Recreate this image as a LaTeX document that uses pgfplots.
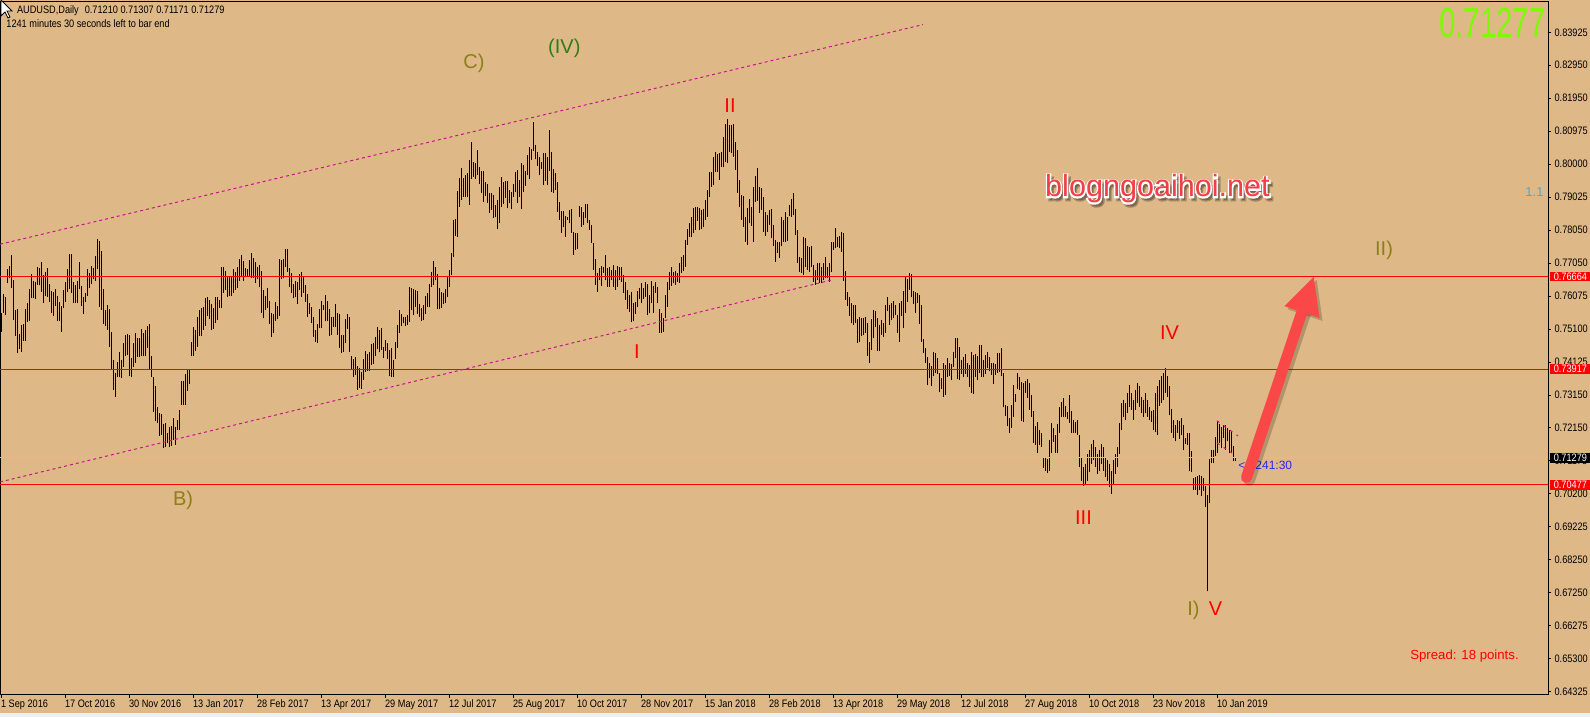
\documentclass[border=0pt]{standalone}
\usepackage{fontspec}
\setmainfont{Liberation Sans}
\newfontfamily\mtfont[FakeStretch=0.85]{Liberation Sans}
\newfontfamily\blogfat[FakeBold=9]{Liberation Sans}
\usepackage{graphicx}
\usepackage{pgfplots}
\usepackage{pgfplotstable}
\pgfplotsset{compat=1.18}
\usetikzlibrary{arrows.meta}

\definecolor{bg}{RGB}{222,184,135}
\definecolor{chan}{RGB}{200,20,140}
\definecolor{olv}{RGB}{140,128,24}
\definecolor{grn}{RGB}{45,125,25}
\definecolor{lime}{RGB}{124,252,0}
\definecolor{arr}{RGB}{250,72,72}
\definecolor{blogred}{RGB}{242,62,72}
\definecolor{sky}{RGB}{70,170,230}
\definecolor{tblue}{RGB}{40,40,235}
\definecolor{silv}{RGB}{192,192,192}
\definecolor{strip}{RGB}{240,240,240}

\newcommand\smallmt{\mtfont\fontsize{5.4}{6.5}\selectfont}
\newcommand\lblfont{\fontsize{10}{12}\selectfont}

% daily bars of AUDUSD: x position (px), low, high
\pgfplotstableread{
x lo hi
1.3 0.7503 0.7558
3.3 0.7559 0.7615
5.3 0.7551 0.7607
7.3 0.7646 0.7688
9.3 0.7661 0.7698
11.3 0.7634 0.7731
13.3 0.7537 0.7656
15.3 0.7491 0.7567
17.3 0.7440 0.7569
19.3 0.7450 0.7495
21.3 0.7443 0.7523
23.3 0.7476 0.7525
25.3 0.7476 0.7569
27.3 0.7531 0.7587
29.3 0.7533 0.7630
31.3 0.7604 0.7674
33.3 0.7602 0.7652
35.3 0.7599 0.7650
37.3 0.7642 0.7696
39.3 0.7640 0.7692
41.3 0.7622 0.7710
43.3 0.7589 0.7671
45.3 0.7609 0.7681
47.3 0.7607 0.7691
49.3 0.7592 0.7644
51.3 0.7559 0.7625
53.3 0.7549 0.7622
55.3 0.7579 0.7630
57.3 0.7533 0.7609
59.3 0.7533 0.7592
61.3 0.7503 0.7579
63.3 0.7572 0.7627
65.3 0.7592 0.7651
67.3 0.7622 0.7688
69.3 0.7629 0.7733
71.3 0.7619 0.7733
73.3 0.7589 0.7651
75.3 0.7587 0.7641
77.3 0.7589 0.7653
79.3 0.7629 0.7710
81.3 0.7579 0.7639
83.3 0.7555 0.7605
85.3 0.7592 0.7619
87.3 0.7609 0.7688
89.3 0.7632 0.7676
91.3 0.7644 0.7698
93.3 0.7658 0.7693
95.3 0.7653 0.7728
97.3 0.7688 0.7778
99.3 0.7577 0.7772
101.3 0.7567 0.7743
103.3 0.7525 0.7630
105.3 0.7520 0.7567
107.3 0.7508 0.7582
109.3 0.7458 0.7569
111.3 0.7391 0.7501
113.3 0.7329 0.7419
115.3 0.7310 0.7381
117.3 0.7369 0.7414
119.3 0.7367 0.7443
121.3 0.7364 0.7419
123.3 0.7399 0.7470
125.3 0.7430 0.7493
127.3 0.7433 0.7495
129.3 0.7371 0.7493
131.3 0.7367 0.7424
133.3 0.7399 0.7470
135.3 0.7409 0.7500
137.3 0.7427 0.7485
139.3 0.7427 0.7485
141.3 0.7429 0.7510
143.3 0.7429 0.7498
145.3 0.7429 0.7507
147.3 0.7453 0.7521
149.3 0.7391 0.7525
151.3 0.7369 0.7431
153.3 0.7265 0.7369
155.3 0.7237 0.7341
157.3 0.7230 0.7280
159.3 0.7193 0.7260
161.3 0.7196 0.7257
163.3 0.7158 0.7228
165.3 0.7161 0.7230
167.3 0.7171 0.7201
169.3 0.7161 0.7220
171.3 0.7163 0.7222
173.3 0.7181 0.7245
175.3 0.7166 0.7220
177.3 0.7210 0.7240
179.3 0.7210 0.7270
181.3 0.7285 0.7356
183.3 0.7285 0.7356
185.3 0.7285 0.7377
187.3 0.7327 0.7389
189.3 0.7347 0.7391
191.3 0.7429 0.7472
193.3 0.7429 0.7516
195.3 0.7446 0.7508
197.3 0.7458 0.7546
199.3 0.7490 0.7567
201.3 0.7491 0.7572
203.3 0.7508 0.7575
205.3 0.7520 0.7604
207.3 0.7548 0.7607
209.3 0.7540 0.7597
211.3 0.7508 0.7585
213.3 0.7510 0.7572
215.3 0.7528 0.7605
217.3 0.7537 0.7607
219.3 0.7573 0.7598
221.3 0.7574 0.7696
223.3 0.7619 0.7696
225.3 0.7627 0.7683
227.3 0.7605 0.7669
229.3 0.7609 0.7666
231.3 0.7610 0.7668
233.3 0.7617 0.7688
235.3 0.7627 0.7681
237.3 0.7634 0.7696
239.3 0.7654 0.7719
241.3 0.7668 0.7731
243.3 0.7653 0.7714
245.3 0.7668 0.7691
247.3 0.7666 0.7689
249.3 0.7666 0.7716
251.3 0.7663 0.7738
253.3 0.7663 0.7721
255.3 0.7646 0.7711
257.3 0.7658 0.7696
259.3 0.7635 0.7701
261.3 0.7557 0.7684
263.3 0.7542 0.7627
265.3 0.7567 0.7609
267.3 0.7572 0.7632
269.3 0.7525 0.7595
271.3 0.7488 0.7557
273.3 0.7498 0.7555
275.3 0.7533 0.7592
277.3 0.7540 0.7579
279.3 0.7549 0.7719
281.3 0.7658 0.7716
283.3 0.7661 0.7719
285.3 0.7696 0.7749
287.3 0.7681 0.7749
289.3 0.7637 0.7691
291.3 0.7619 0.7676
293.3 0.7602 0.7644
295.3 0.7605 0.7654
297.3 0.7585 0.7651
299.3 0.7627 0.7674
301.3 0.7607 0.7679
303.3 0.7619 0.7668
305.3 0.7592 0.7641
307.3 0.7545 0.7615
309.3 0.7555 0.7589
311.3 0.7528 0.7575
313.3 0.7488 0.7547
315.3 0.7473 0.7508
317.3 0.7470 0.7526
319.3 0.7513 0.7569
321.3 0.7513 0.7594
323.3 0.7567 0.7582
325.3 0.7533 0.7612
327.3 0.7533 0.7595
329.3 0.7490 0.7569
331.3 0.7493 0.7547
333.3 0.7516 0.7547
335.3 0.7516 0.7585
337.3 0.7493 0.7557
339.3 0.7453 0.7555
341.3 0.7438 0.7493
343.3 0.7443 0.7493
345.3 0.7468 0.7541
347.3 0.7510 0.7555
349.3 0.7443 0.7547
351.3 0.7389 0.7431
353.3 0.7367 0.7421
355.3 0.7374 0.7427
357.3 0.7329 0.7401
359.3 0.7336 0.7394
361.3 0.7332 0.7384
363.3 0.7359 0.7421
365.3 0.7384 0.7446
367.3 0.7387 0.7436
369.3 0.7386 0.7443
371.3 0.7404 0.7466
373.3 0.7407 0.7468
375.3 0.7429 0.7486
377.3 0.7450 0.7516
379.3 0.7441 0.7508
381.3 0.7448 0.7515
383.3 0.7424 0.7458
385.3 0.7446 0.7478
387.3 0.7421 0.7468
389.3 0.7371 0.7448
391.3 0.7369 0.7453
393.3 0.7369 0.7419
395.3 0.7421 0.7473
397.3 0.7453 0.7523
399.3 0.7498 0.7567
401.3 0.7520 0.7555
403.3 0.7528 0.7547
405.3 0.7520 0.7547
407.3 0.7523 0.7552
409.3 0.7531 0.7637
411.3 0.7567 0.7632
413.3 0.7552 0.7629
415.3 0.7577 0.7627
417.3 0.7555 0.7624
419.3 0.7547 0.7585
421.3 0.7533 0.7572
423.3 0.7537 0.7582
425.3 0.7555 0.7610
427.3 0.7575 0.7619
429.3 0.7575 0.7645
431.3 0.7635 0.7681
433.3 0.7642 0.7713
435.3 0.7656 0.7696
437.3 0.7569 0.7674
439.3 0.7569 0.7632
441.3 0.7572 0.7622
443.3 0.7585 0.7619
445.3 0.7587 0.7630
447.3 0.7607 0.7666
449.3 0.7635 0.7686
451.3 0.7671 0.7738
453.3 0.7724 0.7835
455.3 0.7787 0.7837
457.3 0.7785 0.7921
459.3 0.7874 0.7958
461.3 0.7894 0.7988
463.3 0.7904 0.7960
465.3 0.7902 0.7968
467.3 0.7902 0.7973
469.3 0.7879 0.8013
471.3 0.7956 0.8066
473.3 0.7963 0.8008
475.3 0.7956 0.8003
477.3 0.7968 0.8043
479.3 0.7942 0.7993
481.3 0.7914 0.7980
483.3 0.7889 0.7980
485.3 0.7906 0.7947
487.3 0.7886 0.7942
489.3 0.7854 0.7914
491.3 0.7864 0.7914
493.3 0.7840 0.7909
495.3 0.7843 0.7879
497.3 0.7807 0.7894
499.3 0.7825 0.7932
501.3 0.7874 0.7963
503.3 0.7882 0.7947
505.3 0.7901 0.7952
507.3 0.7869 0.7951
509.3 0.7884 0.7924
511.3 0.7866 0.7919
513.3 0.7904 0.7942
515.3 0.7919 0.7978
517.3 0.7886 0.7983
519.3 0.7902 0.7954
521.3 0.7866 0.8003
523.3 0.7919 0.7998
525.3 0.7936 0.7981
527.3 0.7968 0.8028
529.3 0.7956 0.8051
531.3 0.8013 0.8045
533.3 0.8041 0.8125
535.3 0.8015 0.8058
537.3 0.7995 0.8038
539.3 0.7968 0.8023
541.3 0.7985 0.8008
543.3 0.7939 0.8035
545.3 0.7952 0.8033
547.3 0.7939 0.8023
549.3 0.7981 0.8102
551.3 0.7919 0.8038
553.3 0.7914 0.7985
555.3 0.7924 0.7975
557.3 0.7859 0.7949
559.3 0.7835 0.7889
561.3 0.7797 0.7862
563.3 0.7813 0.7862
565.3 0.7785 0.7846
567.3 0.7835 0.7844
569.3 0.7825 0.7864
571.3 0.7797 0.7866
573.3 0.7731 0.7800
575.3 0.7746 0.7795
577.3 0.7748 0.7795
579.3 0.7843 0.7876
581.3 0.7815 0.7874
583.3 0.7820 0.7859
585.3 0.7840 0.7882
587.3 0.7825 0.7882
589.3 0.7805 0.7835
591.3 0.7767 0.7820
593.3 0.7686 0.7767
595.3 0.7642 0.7718
597.3 0.7622 0.7678
599.3 0.7656 0.7691
601.3 0.7639 0.7698
603.3 0.7676 0.7696
605.3 0.7656 0.7731
607.3 0.7637 0.7691
609.3 0.7637 0.7696
611.3 0.7656 0.7686
613.3 0.7637 0.7701
615.3 0.7627 0.7686
617.3 0.7637 0.7698
619.3 0.7656 0.7694
621.3 0.7649 0.7696
623.3 0.7617 0.7671
625.3 0.7597 0.7651
627.3 0.7569 0.7627
629.3 0.7562 0.7612
631.3 0.7531 0.7622
633.3 0.7533 0.7589
635.3 0.7555 0.7592
637.3 0.7577 0.7625
639.3 0.7599 0.7632
641.3 0.7587 0.7646
643.3 0.7600 0.7634
645.3 0.7607 0.7651
647.3 0.7552 0.7644
649.3 0.7557 0.7612
651.3 0.7587 0.7654
653.3 0.7559 0.7639
655.3 0.7619 0.7651
657.3 0.7587 0.7637
659.3 0.7500 0.7569
661.3 0.7500 0.7557
663.3 0.7503 0.7542
665.3 0.7542 0.7612
667.3 0.7577 0.7651
669.3 0.7627 0.7681
671.3 0.7639 0.7696
673.3 0.7646 0.7681
675.3 0.7642 0.7684
677.3 0.7651 0.7678
679.3 0.7648 0.7708
681.3 0.7676 0.7726
683.3 0.7684 0.7731
685.3 0.7696 0.7775
687.3 0.7760 0.7807
689.3 0.7785 0.7825
691.3 0.7785 0.7843
693.3 0.7797 0.7869
695.3 0.7805 0.7872
697.3 0.7833 0.7872
699.3 0.7805 0.7869
701.3 0.7807 0.7864
703.3 0.7813 0.7866
705.3 0.7835 0.7894
707.3 0.7845 0.7924
709.3 0.7902 0.7976
711.3 0.7934 0.7978
713.3 0.7939 0.8021
715.3 0.7978 0.8038
717.3 0.7978 0.8031
719.3 0.7954 0.8033
721.3 0.7993 0.8038
723.3 0.7991 0.8082
725.3 0.8008 0.8120
727.3 0.8003 0.8134
729.3 0.8038 0.8117
731.3 0.8033 0.8117
733.3 0.8023 0.8120
735.3 0.7983 0.8066
737.3 0.7916 0.8043
739.3 0.7874 0.7954
741.3 0.7835 0.7909
743.3 0.7815 0.7906
745.3 0.7770 0.7843
747.3 0.7760 0.7871
749.3 0.7825 0.7896
751.3 0.7817 0.7874
753.3 0.7770 0.7932
755.3 0.7889 0.7965
757.3 0.7892 0.7988
759.3 0.7854 0.7934
761.3 0.7864 0.7929
763.3 0.7800 0.7902
765.3 0.7787 0.7859
767.3 0.7800 0.7849
769.3 0.7820 0.7864
771.3 0.7780 0.7866
773.3 0.7757 0.7820
775.3 0.7711 0.7775
777.3 0.7736 0.7770
779.3 0.7721 0.7770
781.3 0.7757 0.7843
783.3 0.7770 0.7835
785.3 0.7770 0.7857
787.3 0.7773 0.7844
789.3 0.7847 0.7879
791.3 0.7845 0.7896
793.3 0.7850 0.7914
795.3 0.7790 0.7866
797.3 0.7708 0.7805
799.3 0.7681 0.7726
801.3 0.7676 0.7721
803.3 0.7671 0.7785
805.3 0.7696 0.7780
807.3 0.7686 0.7757
809.3 0.7681 0.7753
811.3 0.7696 0.7757
813.3 0.7651 0.7701
815.3 0.7642 0.7686
817.3 0.7656 0.7706
819.3 0.7648 0.7708
821.3 0.7646 0.7696
823.3 0.7656 0.7708
825.3 0.7661 0.7726
827.3 0.7661 0.7696
829.3 0.7651 0.7708
831.3 0.7681 0.7770
833.3 0.7746 0.7770
835.3 0.7750 0.7810
837.3 0.7755 0.7783
839.3 0.7750 0.7787
841.3 0.7741 0.7800
843.3 0.7654 0.7797
845.3 0.7597 0.7683
847.3 0.7579 0.7620
849.3 0.7549 0.7605
851.3 0.7530 0.7587
853.3 0.7523 0.7582
855.3 0.7528 0.7582
857.3 0.7470 0.7539
859.3 0.7473 0.7547
861.3 0.7490 0.7542
863.3 0.7493 0.7542
865.3 0.7500 0.7547
867.3 0.7431 0.7530
869.3 0.7411 0.7473
871.3 0.7448 0.7539
873.3 0.7483 0.7567
875.3 0.7518 0.7564
877.3 0.7446 0.7542
879.3 0.7446 0.7523
881.3 0.7493 0.7537
883.3 0.7486 0.7528
885.3 0.7500 0.7582
887.3 0.7564 0.7605
889.3 0.7523 0.7582
891.3 0.7537 0.7587
893.3 0.7542 0.7594
895.3 0.7552 0.7582
897.3 0.7498 0.7552
899.3 0.7473 0.7589
901.3 0.7549 0.7595
903.3 0.7513 0.7625
905.3 0.7559 0.7668
907.3 0.7592 0.7658
909.3 0.7627 0.7676
911.3 0.7605 0.7674
913.3 0.7585 0.7625
915.3 0.7559 0.7622
917.3 0.7589 0.7617
919.3 0.7526 0.7612
921.3 0.7473 0.7582
923.3 0.7438 0.7480
925.3 0.7409 0.7453
927.3 0.7344 0.7428
929.3 0.7364 0.7409
931.3 0.7341 0.7401
933.3 0.7371 0.7443
935.3 0.7379 0.7440
937.3 0.7377 0.7424
939.3 0.7322 0.7381
941.3 0.7331 0.7364
943.3 0.7308 0.7409
945.3 0.7315 0.7404
947.3 0.7369 0.7424
949.3 0.7371 0.7409
951.3 0.7359 0.7407
953.3 0.7399 0.7443
955.3 0.7424 0.7483
957.3 0.7361 0.7483
959.3 0.7359 0.7456
961.3 0.7377 0.7419
963.3 0.7367 0.7427
965.3 0.7377 0.7436
967.3 0.7369 0.7409
969.3 0.7339 0.7404
971.3 0.7320 0.7443
973.3 0.7317 0.7433
975.3 0.7369 0.7436
977.3 0.7359 0.7431
979.3 0.7381 0.7463
981.3 0.7369 0.7463
983.3 0.7367 0.7419
985.3 0.7377 0.7433
987.3 0.7394 0.7443
989.3 0.7387 0.7427
991.3 0.7374 0.7411
993.3 0.7346 0.7409
995.3 0.7374 0.7407
997.3 0.7381 0.7438
999.3 0.7384 0.7440
1001.3 0.7371 0.7455
1003.3 0.7278 0.7381
1005.3 0.7253 0.7285
1007.3 0.7221 0.7282
1009.3 0.7201 0.7247
1011.3 0.7216 0.7285
1013.3 0.7250 0.7344
1015.3 0.7295 0.7318
1017.3 0.7331 0.7379
1019.3 0.7329 0.7369
1021.3 0.7238 0.7354
1023.3 0.7235 0.7349
1025.3 0.7320 0.7357
1027.3 0.7305 0.7361
1029.3 0.7270 0.7349
1031.3 0.7250 0.7315
1033.3 0.7173 0.7268
1035.3 0.7166 0.7222
1037.3 0.7141 0.7235
1039.3 0.7166 0.7212
1041.3 0.7161 0.7203
1043.3 0.7097 0.7131
1045.3 0.7090 0.7129
1047.3 0.7084 0.7123
1049.3 0.7090 0.7181
1051.3 0.7141 0.7230
1053.3 0.7176 0.7215
1055.3 0.7141 0.7196
1057.3 0.7141 0.7228
1059.3 0.7203 0.7278
1061.3 0.7248 0.7295
1063.3 0.7250 0.7305
1065.3 0.7250 0.7282
1067.3 0.7242 0.7265
1069.3 0.7232 0.7315
1071.3 0.7203 0.7268
1073.3 0.7203 0.7240
1075.3 0.7201 0.7235
1077.3 0.7196 0.7240
1079.3 0.7100 0.7196
1081.3 0.7060 0.7130
1083.3 0.7045 0.7100
1085.3 0.7050 0.7110
1087.3 0.7060 0.7140
1089.3 0.7085 0.7150
1091.3 0.7110 0.7170
1093.3 0.7120 0.7180
1095.3 0.7100 0.7160
1097.3 0.7080 0.7140
1099.3 0.7090 0.7150
1101.3 0.7110 0.7170
1103.3 0.7090 0.7160
1105.3 0.7070 0.7130
1107.3 0.7060 0.7120
1109.3 0.7040 0.7110
1111.3 0.7020 0.7090
1113.3 0.7050 0.7120
1115.3 0.7080 0.7140
1117.3 0.7100 0.7160
1119.3 0.7140 0.7230
1121.3 0.7210 0.7290
1123.3 0.7250 0.7300
1125.3 0.7240 0.7290
1127.3 0.7260 0.7320
1129.3 0.7280 0.7345
1131.3 0.7270 0.7320
1133.3 0.7240 0.7300
1135.3 0.7270 0.7330
1137.3 0.7290 0.7350
1139.3 0.7280 0.7340
1141.3 0.7260 0.7310
1143.3 0.7250 0.7300
1145.3 0.7260 0.7320
1147.3 0.7250 0.7300
1149.3 0.7240 0.7280
1151.3 0.7233 0.7266
1153.3 0.7211 0.7269
1155.3 0.7206 0.7320
1157.3 0.7196 0.7340
1159.3 0.7283 0.7360
1161.3 0.7292 0.7370
1163.3 0.7300 0.7380
1165.3 0.7320 0.7395
1167.3 0.7310 0.7370
1169.3 0.7256 0.7340
1171.3 0.7203 0.7273
1173.3 0.7187 0.7241
1175.3 0.7177 0.7226
1177.3 0.7201 0.7241
1179.3 0.7184 0.7236
1181.3 0.7196 0.7246
1183.3 0.7150 0.7226
1185.3 0.7170 0.7187
1187.3 0.7167 0.7201
1189.3 0.7088 0.7201
1191.3 0.7085 0.7147
1193.3 0.7031 0.7068
1195.3 0.7033 0.7071
1197.3 0.7018 0.7073
1199.3 0.7031 0.7078
1201.3 0.7015 0.7075
1203.3 0.7028 0.7068
1205.3 0.6981 0.7043
1207.3 0.6731 0.7018
1209.3 0.6993 0.7124
1211.3 0.7112 0.7150
1213.3 0.7112 0.7152
1215.3 0.7132 0.7190
1217.3 0.7142 0.7236
1219.3 0.7172 0.7229
1221.3 0.7157 0.7219
1223.3 0.7187 0.7226
1225.3 0.7152 0.7226
1227.3 0.7177 0.7216
1229.3 0.7142 0.7211
1231.3 0.7142 0.7209
1233.3 0.7117 0.7162
1235.3 0.7117 0.7130
}\bars

\begin{document}
\begin{tikzpicture}
\fill[bg] (0,-11pt) rectangle (795pt,347.5pt);
\fill[strip] (0,-11pt) rectangle (795pt,-9pt);
\begin{axis}[
  at={(0,0)}, anchor=south west,
  scale only axis, width=774pt, height=346.5pt,
  xmin=0, xmax=1548, ymin=0.642296, ymax=0.848256,
  clip=false,
  axis line style={black, line width=0.5pt},
  tick style={black, line width=0.5pt},
  tick align=outside, major tick length=1.6pt,
  xtick pos=bottom, ytick pos=right, yticklabel pos=right,
  xtick={1.5,65.5,129.5,193.5,257.5,321.5,385.5,449.5,513.5,577.5,641.5,705.5,769.5,833.5,897.5,961.5,1025.5,1089.5,1153.5,1217.5},
  xticklabels={1 Sep 2016,17 Oct 2016,30 Nov 2016,13 Jan 2017,28 Feb 2017,13 Apr 2017,29 May 2017,12 Jul 2017,25 Aug 2017,10 Oct 2017,28 Nov 2017,15 Jan 2018,28 Feb 2018,13 Apr 2018,29 May 2018,12 Jul 2018,27 Aug 2018,10 Oct 2018,23 Nov 2018,10 Jan 2019},
  ytick={0.64325,0.65305,0.66285,0.67265,0.68245,0.69225,0.70205,0.71185,0.72165,0.73145,0.74125,0.75105,0.76085,0.77065,0.78045,0.79025,0.80005,0.80985,0.81965,0.82945,0.83925},
  yticklabels={0.64325,0.65300,0.66275,0.67250,0.68250,0.69225,0.70200,0.71175,0.72150,0.73150,0.74125,0.75100,0.76075,0.77050,0.78050,0.79025,0.80000,0.80975,0.81950,0.82950,0.83925},
  tick label style={font=\smallmt, inner sep=0pt, text=black},
  xticklabel style={anchor=north west, xshift=-0.4pt, yshift=-0.6pt},
  yticklabel style={anchor=west, xshift=1.5pt},
]
% price bars (high-low)
\addplot[draw=none, no marks, forget plot,
  error bars/.cd, y dir=plus, y explicit, error mark=none,
  error bar style={draw=black, line width=0.6pt, solid}]
  table[x=x, y=lo, y error plus expr=\thisrow{hi}-\thisrow{lo}] {\bars};

% levels
\addplot[red, line width=0.5pt] coordinates {(0,0.76664) (1548,0.76664)};
\addplot[red, line width=0.5pt] coordinates {(0,0.73917) (1548,0.73917)};
\addplot[red, line width=0.5pt] coordinates {(0,0.70477) (1548,0.70477)};
\addplot[silv, line width=0.5pt] coordinates {(0,0.71279) (1548,0.71279)};

% channel
\addplot[chan, line width=0.5pt, dash pattern=on 1.5pt off 1.5pt] coordinates {(0,0.77625) (923,0.84154)};
\addplot[chan, line width=0.5pt, dash pattern=on 1.5pt off 1.5pt] coordinates {(0,0.70560) (831.7,0.76564)};
\addplot[chan, line width=0.5pt, dash pattern=on 1.5pt off 2.5pt] coordinates {(1217,0.7238) (1238,0.7193)};
\addplot[chan, line width=0.5pt, dash pattern=on 1.5pt off 2.5pt] coordinates {(1217,0.7172) (1232,0.7142)};

% wave labels
\node[anchor=base, text=olv, font=\lblfont] at (axis cs:474,0.8286) {C)};
\node[anchor=base, text=grn, font=\lblfont] at (axis cs:564.3,0.8330) {(IV)};
\node[anchor=base, text=red, font=\lblfont] at (axis cs:730,0.8155) {II};
\node[anchor=base, text=red, font=\lblfont] at (axis cs:637,0.7424) {I};
\node[anchor=base, text=olv, font=\lblfont] at (axis cs:183,0.6986) {B)};
\node[anchor=base, text=red, font=\lblfont] at (axis cs:1083.5,0.6931) {III};
\node[anchor=base, text=red, font=\lblfont] at (axis cs:1169.6,0.7479) {IV};
\node[anchor=base, text=olv, font=\lblfont] at (axis cs:1193.5,0.6659) {I)};
\node[anchor=base, text=red, font=\lblfont] at (axis cs:1215.5,0.6659) {V};
\node[anchor=base, text=olv, font=\lblfont] at (axis cs:1384,0.7730) {II)};

% texts
\node[anchor=base west, inner sep=0pt, font=\smallmt] at (axis cs:16.7,0.84469) {AUDUSD,Daily\hspace{3pt}0.71210 0.71307 0.71171 0.71279};
\node[anchor=base west, inner sep=0pt, font=\smallmt] at (axis cs:6,0.84074) {1241 minutes 30 seconds left to bar end};
\node[anchor=base east, inner sep=0pt, text=lime, font=\fontsize{21}{24}\selectfont] at (axis cs:1546,0.8376) {\scalebox{0.7}[1]{0.71277}};
\node[anchor=base, inner sep=0pt, text=sky, font=\fontsize{6.5}{8}\selectfont] at (axis cs:1534.5,0.7904) {1.1};
\node[anchor=base, inner sep=0pt, text=red, font=\fontsize{6.6}{8}\selectfont] at (axis cs:1464.5,0.6527) {Spread: 18 points.};
\node[anchor=base west, inner sep=0pt, text=tblue, font=\fontsize{6}{7}\selectfont] at (axis cs:1238,0.70946) {< 1241:30};

\coordinate (blog) at (axis cs:1157.5,0.7903);
\coordinate (blogs) at (axis cs:1160,0.7894);
\coordinate (atail) at (axis cs:1246.5,0.70693);
\coordinate (ahead) at (axis cs:1314,0.76682);
\coordinate (r1) at (axis cs:1548,0.76664);
\coordinate (r2) at (axis cs:1548,0.73917);
\coordinate (r3) at (axis cs:1548,0.70477);
\coordinate (r4) at (axis cs:1548,0.71279);
\coordinate (cur) at (axis cs:0,0.84885);
\end{axis}

% price boxes on the scale
\tikzset{pbox/.style={anchor=west, inner sep=0pt, minimum width=20pt, minimum height=4.8pt, text=white, font=\smallmt}}
\node[pbox, fill=red] at ([xshift=1pt]r1) {0.76664};
\node[pbox, fill=red] at ([xshift=1pt]r2) {0.73917};
\node[pbox, fill=red] at ([xshift=1pt]r3) {0.70477};
\node[pbox, fill=black] at ([xshift=1pt]r4) {0.71279};

% watermark: shadow, white outline, red text
\node[anchor=base, inner sep=0pt, text=black, opacity=0.25, font=\blogfat\fontsize{15.3}{18}\selectfont] at (blogs) {blogngoaihoi.net};
\node[anchor=base, inner sep=0pt, text=white, font=\blogfat\fontsize{15.3}{18}\selectfont] at (blog) {blogngoaihoi.net};
\node[anchor=base, inner sep=0pt, text=blogred, font=\fontsize{15.3}{18}\selectfont] at (blog) {blogngoaihoi.net};

% arrow
\draw[black, opacity=0.2, line width=5.5pt, line cap=round, -{Triangle[length=19pt,width=17pt]}]
  ([shift={(1.5pt,-1.5pt)}]atail) -- ([shift={(1.5pt,-1.5pt)}]ahead);
\draw[arr, line width=5.5pt, line cap=round, -{Triangle[length=19pt,width=17pt]}] (atail) -- (ahead);

% mouse pointer
\filldraw[fill=white, draw=black, line width=0.4pt] ([xshift=0.5pt]cur) -- ++(0,-8pt) -- ++(2pt,2pt) -- ++(1.5pt,-3pt) -- ++(1pt,0.5pt) -- ++(-1.5pt,3pt) -- ++(2.5pt,0) -- cycle;

\pgfresetboundingbox
\path (0,-11pt) rectangle (795pt,347.5pt);
\end{tikzpicture}
\end{document}
